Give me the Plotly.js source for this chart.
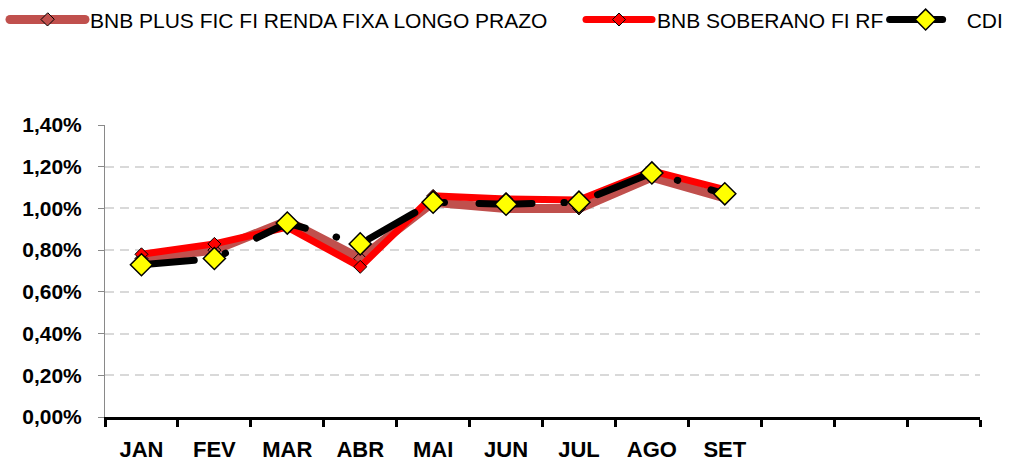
<!DOCTYPE html>
<html><head><meta charset="utf-8">
<script src="https://cdn.plot.ly/plotly-3.0.1.min.js"></script>
<style>
html,body{margin:0;padding:0;background:#fff;}
#chart{width:1009px;height:462px;}
.js-line,.legend path{stroke-linecap:round;}
</style></head><body><div id="chart"></div>
<script>
const months = ['JAN','FEV','MAR','ABR','MAI','JUN','JUL','AGO','SET'];
const allMonths = ['JAN','FEV','MAR','ABR','MAI','JUN','JUL','AGO','SET','OUT','NOV','DEZ'];
const monthLabels = ['JAN','FEV','MAR','ABR','MAI','JUN','JUL','AGO','SET','','',''];
const bnbPlus = [0.76,0.80,0.94,0.76,1.03,1.00,1.00,1.15,1.05];
const bnbSoberano = [0.78,0.83,0.91,0.72,1.06,1.045,1.04,1.18,1.09];
const cdi = [0.73,0.76,0.93,0.83,1.03,1.02,1.03,1.17,1.07];
const yTicks = [0,0.2,0.4,0.6,0.8,1.0,1.2,1.4];
const yTickLabels = yTicks.map(v => v.toFixed(2).replace('.', ',') + '%');
const seriesNames = ['BNB PLUS FIC FI RENDA FIXA LONGO PRAZO','BNB SOBERANO FI RF','CDI'];

const font = "'Liberation Sans', Arial, sans-serif";

const traces = [
  {x: months, y: bnbPlus, name: seriesNames[0], type:'scatter', mode:'lines+markers', legend:'legend',
   line:{color:'#C0504D', width:9},
   marker:{symbol:'diamond', size:10, color:'#C0504D', line:{color:'#000', width:1}}},
  {x: months, y: bnbSoberano, name: seriesNames[1], type:'scatter', mode:'lines+markers', legend:'legend2',
   line:{color:'#FF0000', width:7},
   marker:{symbol:'diamond', size:10, color:'#FF0000', line:{color:'#000', width:1}}},
  {x: months, y: cdi, name: seriesNames[2], type:'scatter', mode:'lines+markers', legend:'legend3',
   line:{color:'#000000', width:7, dash:'53px,32px,0.5px,34.5px'},
   marker:{symbol:'diamond', size:17, color:'#FFFF00', line:{color:'#000', width:1.5}}}
];

const legFont = {family: font, size: 21, color:'#000'};
const legBase = {orientation:'h', xanchor:'left', yanchor:'middle', y:1.36, font:legFont,
  bgcolor:'rgba(0,0,0,0)', borderwidth:0};

const layout = {
  width:1009, height:462,
  margin:{l:105, r:29, t:125, b:45, autoexpand:false},
  paper_bgcolor:'#fff', plot_bgcolor:'#fff',
  showlegend:true,
  legend: Object.assign({}, legBase, {x:-0.1143, itemwidth:75}),
  legend2: Object.assign({}, legBase, {x:0.544, itemwidth:66}),
  legend3: Object.assign({}, legBase, {x:0.891, itemwidth:72}),
  xaxis:{
    type:'category', categoryorder:'array', categoryarray: allMonths,
    range:[-0.5, 11.5], tickmode:'array', tickvals: allMonths, ticktext: monthLabels,
    tickson:'boundaries', ticks:'outside', ticklen:7, tickwidth:3, tickcolor:'#000',
    showline:true, linecolor:'#000', linewidth:3, showgrid:false, zeroline:false,
    ticklabelstandoff:11,
    tickfont:{family:font, size:22, color:'#000', weight:'bold'}
  },
  yaxis:{
    range:[0,1.4], tickmode:'array', tickvals: yTicks, ticktext: yTickLabels,
    showline:true, linecolor:'#898989', linewidth:1, ticks:'outside', ticklen:6, tickcolor:'#898989',
    showgrid:true, gridcolor:'#D9D9D9', gridwidth:2, griddash:'9px,6px', zeroline:false,
    ticklabelstandoff:12,
    tickfont:{family:font, size:21, color:'#000', weight:'bold'}
  }
};

Plotly.newPlot('chart', traces, layout, {displayModeBar:false, staticPlot:true});
</script></body></html>
